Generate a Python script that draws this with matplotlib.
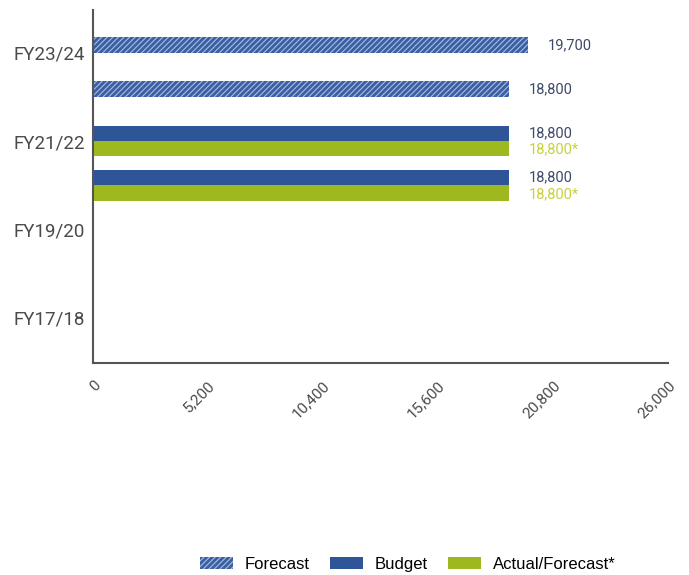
import matplotlib
matplotlib.use("Agg")
import matplotlib.pyplot as plt
import numpy as np
from matplotlib.patches import Patch

plt.rcParams["font.family"] = ["Roboto", "DejaVu Sans"]
plt.rcParams["hatch.color"] = "#a9bde0"
plt.rcParams["hatch.linewidth"] = 0.8

# data, top to bottom
categories = ["FY23/24", "FY22/23", "FY21/22", "FY20/21", "FY19/20", "FY18/19", "FY17/18"]
forecast = [19700, 18800, np.nan, np.nan, np.nan, np.nan, np.nan]
budget = [np.nan, np.nan, 18800, 18800, np.nan, np.nan, np.nan]
actual = [np.nan, np.nan, 18800, 18800, np.nan, np.nan, np.nan]
x_ticks = [0, 5200, 10400, 15600, 20800, 26000]

blue = "#2e5597"
hatch_blue = "#3a5fa3"
green = "#9db91f"

fig = plt.figure(figsize=(6.89, 5.75), dpi=100)
ax = fig.add_axes([0.135, 0.369, 0.834, 0.614])

pos = np.arange(len(categories))[::-1]  # FY23/24 at top
h = 0.35

ax.barh(pos + h / 2, forecast, height=h, color=hatch_blue, hatch="//////", edgecolor="#a9bde0", linewidth=0)
ax.barh(pos + h / 2, budget, height=h, color=blue, linewidth=0)
ax.barh(pos - h / 2, actual, height=h, color=green, linewidth=0)

lab = dict(va="center", ha="left", fontsize=10.5)
for p, v in zip(pos, forecast):
    if not np.isnan(v):
        ax.text(v + 900, p + h / 2, f"{v:,.0f}", color="#3d4a66", **lab)
for p, v in zip(pos, budget):
    if not np.isnan(v):
        ax.text(v + 900, p + h / 2, f"{v:,.0f}", color="#3d4a66", **lab)
for p, v in zip(pos, actual):
    if not np.isnan(v):
        ax.text(v + 900, p - h / 2 - 0.02, f"{v:,.0f}*", color="#c9d13a", **lab)

ax.set_xlim(0, 26000)
ax.set_ylim(-1.02, 6.97)
ax.set_xticks(x_ticks)
ax.set_xticklabels([f"{t:,}" for t in x_ticks], rotation=45, ha="right", rotation_mode="anchor",
                   fontsize=11, color="#4a4a4a")
ax.set_yticks(pos[::2])
ax.set_yticklabels(categories[::2], fontsize=13.5, color="#4a4a4a")
ax.tick_params(axis="both", length=0)
ax.tick_params(axis="x", pad=11)
ax.tick_params(axis="y", pad=6)

for s in ["top", "right"]:
    ax.spines[s].set_visible(False)
for s in ["left", "bottom"]:
    ax.spines[s].set_color("#555555")
    ax.spines[s].set_linewidth(1.5)

handles = [
    Patch(facecolor=hatch_blue, hatch="//////", edgecolor="#a9bde0", linewidth=0, label="Forecast"),
    Patch(facecolor=blue, label="Budget"),
    Patch(facecolor=green, label="Actual/Forecast*"),
]
fig.legend(handles=handles, loc="center", bbox_to_anchor=(0.592, 0.018), ncol=3, frameon=False,
           handlelength=2.0, handleheight=0.75, handletextpad=0.7, columnspacing=1.2,
           prop={"family": ["Liberation Sans", "DejaVu Sans"], "size": 12})

fig.savefig("out.png", dpi=100)
